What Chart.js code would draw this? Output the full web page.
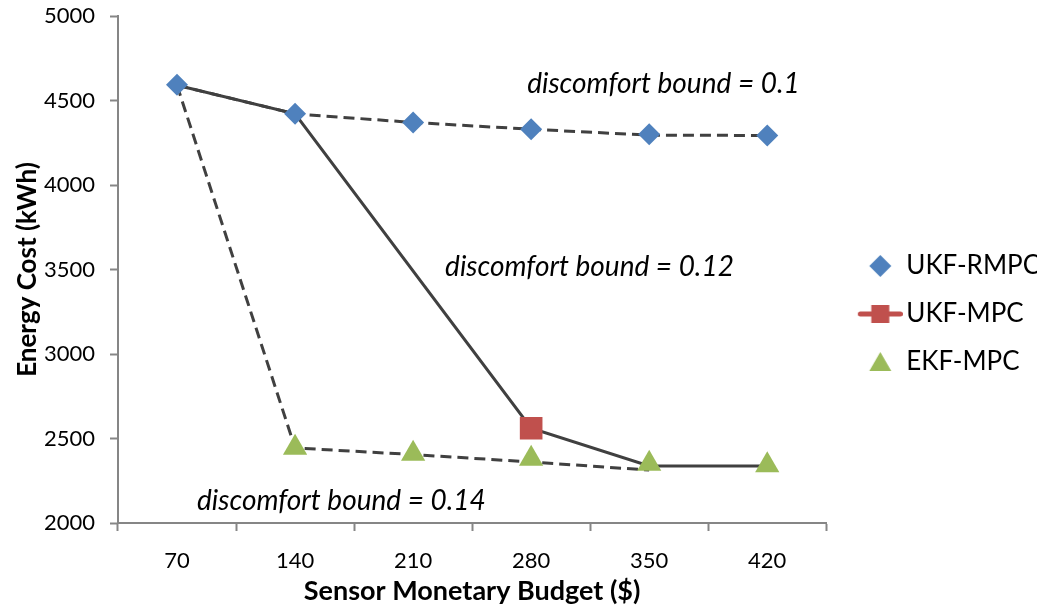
<!DOCTYPE html>
<html>
<head>
<meta charset="utf-8">
<script src="https://cdn.jsdelivr.net/npm/chart.js@4"></script>
<style>
  html, body { margin: 0; padding: 0; background: #fff; }
  #wrap { width: 1037px; height: 613px; }
</style>
</head>
<body>
<div id="wrap"><canvas id="chart" width="1037" height="613"></canvas></div>
<script>
// categories (sensor budget, $)
const budgets = ['70', '140', '210', '280', '350', '420'];

// marker series
const ukfRmpc = [4593, 4421, 4370, 4330, 4301, 4293];
const ukfMpc = [null, null, null, 2561, null, null];
const ekfMpc = [null, 2445, 2410, 2380, 2350, 2342];

// connecting lines, one per discomfort bound
const bound010 = [4590, 4421, 4370, 4330, 4295, 4293];
const bound012 = [4590, 4421, null, 2561, 2337, 2337];
const bound014 = [4590, 2444, 2405, 2361, 2313, null];

// y axis ticks
const yMin = 2000;
const yMax = 5000;
const yStep = 500;

// text notes: [text, x category index, y value of baseline]
const notes = [
    ['discomfort bound = 0.1', 2.966, 4545],
    ['discomfort bound = 0.12', 2.271, 3459],
    ['discomfort bound = 0.14', 0.169, 2077]
];

const FONT = 'Lato, "Open Sans", sans-serif';
const blue = '#4F81BD';
const red = '#C0504D';
const green = '#9BBB59';
const lineGray = '#404040';
const axisGray = '#868686';

// legend symbols: 64px wide canvases, symbol drawn right of centre
function legendSymbol(kind) {
    const c = document.createElement('canvas');
    c.width = 64; c.height = 22;
    const ctx = c.getContext('2d');
    const cx = 41.5, cy = 11;
    if (kind === 'diamond') {
        ctx.fillStyle = blue;
        ctx.beginPath();
        ctx.moveTo(cx, cy - 11); ctx.lineTo(cx + 11, cy); ctx.lineTo(cx, cy + 11); ctx.lineTo(cx - 11, cy);
        ctx.closePath(); ctx.fill();
    } else if (kind === 'lineSquare') {
        ctx.strokeStyle = red;
        ctx.lineWidth = 5;
        ctx.lineCap = 'round';
        ctx.beginPath(); ctx.moveTo(cx - 20, cy); ctx.lineTo(cx + 20, cy); ctx.stroke();
        ctx.fillStyle = red;
        ctx.fillRect(cx - 9, cy - 9, 18, 18);
    } else {
        ctx.fillStyle = green;
        ctx.beginPath();
        ctx.moveTo(cx, cy - 10); ctx.lineTo(cx + 11, cy + 9); ctx.lineTo(cx - 11, cy + 9);
        ctx.closePath(); ctx.fill();
    }
    return c;
}

const notesPlugin = {
    id: 'notes',
    afterDatasetsDraw(chart) {
        const {ctx, scales} = chart;
        ctx.save();
        ctx.font = 'italic 28px ' + FONT;
        ctx.fillStyle = '#000';
        ctx.textAlign = 'left';
        ctx.textBaseline = 'alphabetic';
        notes.forEach(n => {
            ctx.fillText(n[0], scales.x.getPixelForValue(n[1]), scales.y.getPixelForValue(n[2]));
        });
        ctx.restore();
    }
};

const lineBase = {
    borderColor: lineGray,
    borderWidth: 3,
    pointRadius: 0,
    pointHoverRadius: 0,
    fill: false,
    tension: 0
};

new Chart(document.getElementById('chart'), {
    type: 'line',
    data: {
        labels: budgets,
        datasets: [
            { label: 'UKF-MPC', data: ukfMpc, showLine: false, pointStyle: 'rect', pointRadius: 16,
              backgroundColor: red, borderColor: red, borderWidth: 0 },
            { label: 'UKF-RMPC', data: ukfRmpc, showLine: false, pointStyle: 'rectRot', pointRadius: 11,
              backgroundColor: blue, borderColor: blue, borderWidth: 0 },
            { label: 'EKF-MPC', data: ekfMpc, showLine: false, pointStyle: 'triangle', pointRadius: 14,
              backgroundColor: green, borderColor: green, borderWidth: 0 },
            Object.assign({ label: 'b012', data: bound012, spanGaps: true }, lineBase),
            Object.assign({ label: 'b010', data: bound010, borderDash: [11, 6] }, lineBase),
            Object.assign({ label: 'b014', data: bound014, borderDash: [11, 6] }, lineBase)
        ]
    },
    options: {
        responsive: false,
        animation: false,
        layout: { padding: { top: 15, right: -13, bottom: 0, left: 0 } },
        plugins: {
            tooltip: { enabled: false },
            legend: {
                position: 'right',
                labels: {
                    font: { family: FONT, size: 26 },
                    color: '#000',
                    usePointStyle: true,
                    pointStyleWidth: 45,
                    padding: 22,
                    generateLabels: () => [
                        { text: 'UKF-RMPC', pointStyle: legendSymbol('diamond'), fillStyle: blue, strokeStyle: blue, lineWidth: 0, fontColor: '#000' },
                        { text: 'UKF-MPC', pointStyle: legendSymbol('lineSquare'), fillStyle: red, strokeStyle: red, lineWidth: 0, fontColor: '#000' },
                        { text: 'EKF-MPC', pointStyle: legendSymbol('triangle'), fillStyle: green, strokeStyle: green, lineWidth: 0, fontColor: '#000' }
                    ]
                }
            }
        },
        scales: {
            x: {
                offset: true,
                grid: { display: true, offset: true, drawOnChartArea: false, tickLength: 8, tickColor: axisGray, tickWidth: 2 },
                border: { color: axisGray, width: 2 },
                ticks: { font: { family: FONT, size: 22 }, color: '#000', padding: 17, maxRotation: 0 },
                title: { display: true, text: 'Sensor Monetary Budget ($)', color: '#000',
                         font: { family: FONT, size: 27, weight: 'bold' }, padding: { top: 4, bottom: 6 } },
                afterFit(scale) { scale.height = 90; }
            },
            y: {
                min: yMin,
                max: yMax,
                grid: { display: true, drawOnChartArea: false, tickLength: 8, tickColor: axisGray, tickWidth: 2 },
                border: { color: axisGray, width: 2 },
                ticks: { stepSize: yStep, font: { family: FONT, size: 22 }, color: '#000', padding: 15,
                         callback: v => String(v) },
                title: { display: true, text: 'Energy Cost (kWh)', color: '#000',
                         font: { family: FONT, size: 26, weight: 'bold' }, padding: { top: 12, bottom: 4 } },
                afterFit(scale) {
                    scale.width = 118;
                    scale.paddingTop = 0;
                    scale.paddingBottom = 0;
                }
            }
        }
    },
    plugins: [notesPlugin]
});
</script>
</body>
</html>
